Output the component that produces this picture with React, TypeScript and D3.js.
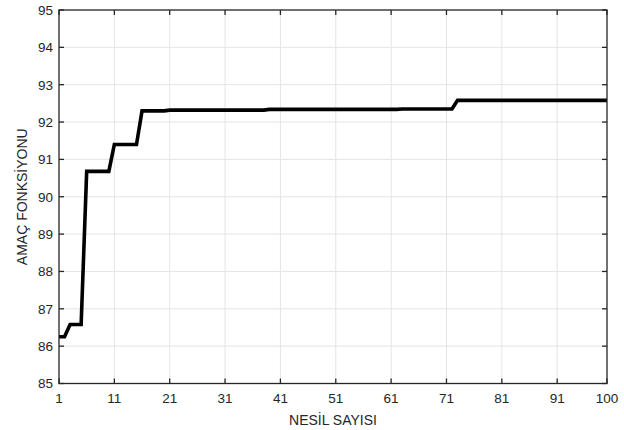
import { useEffect, useRef } from 'react'
import * as d3 from 'd3'

// objective value per generation
const generations = d3.range(1, 101)
const fitness = [
  86.25, 86.25, 86.58, 86.58, 86.58, 90.68, 90.68, 90.68, 90.68, 90.68,
  91.4, 91.4, 91.4, 91.4, 91.4, 92.3, 92.3, 92.3, 92.3, 92.3,
  92.32, 92.32, 92.32, 92.32, 92.32, 92.32, 92.32, 92.32, 92.32, 92.32,
  92.32, 92.32, 92.32, 92.32, 92.32, 92.32, 92.32, 92.32, 92.34, 92.34,
  92.34, 92.34, 92.34, 92.34, 92.34, 92.34, 92.34, 92.34, 92.34, 92.34,
  92.34, 92.34, 92.34, 92.34, 92.34, 92.34, 92.34, 92.34, 92.34, 92.34,
  92.34, 92.34, 92.35, 92.35, 92.35, 92.35, 92.35, 92.35, 92.35, 92.35,
  92.35, 92.35, 92.58, 92.58, 92.58, 92.58, 92.58, 92.58, 92.58, 92.58,
  92.58, 92.58, 92.58, 92.58, 92.58, 92.58, 92.58, 92.58, 92.58, 92.58,
  92.58, 92.58, 92.58, 92.58, 92.58, 92.58, 92.58, 92.58, 92.58, 92.58,
]
const xTicks = [1, 11, 21, 31, 41, 51, 61, 71, 81, 91, 100]
const yTicks = [85, 86, 87, 88, 89, 90, 91, 92, 93, 94, 95]

const W = 624
const H = 430

export default function App() {
  const svgRef = useRef<SVGSVGElement>(null)

  useEffect(() => {
    if (!svgRef.current) return
    const svg = d3.select(svgRef.current)
    svg.selectAll('*').remove()

    const margin = { top: 10, right: 17, bottom: 46.5, left: 59 }
    const innerW = W - margin.left - margin.right
    const innerH = H - margin.top - margin.bottom
    const font = 'Liberation Sans, Arial, sans-serif'
    const axisColor = '#262626'

    const x = d3.scaleLinear().domain([1, 100]).range([0, innerW])
    const y = d3.scaleLinear().domain([85, 95]).range([innerH, 0])

    const g = svg.append('g').attr('transform', `translate(${margin.left},${margin.top})`)

    // grid
    g.selectAll('.gx').data(xTicks.slice(1, -1)).enter().append('line')
      .attr('x1', d => x(d)).attr('x2', d => x(d))
      .attr('y1', 0).attr('y2', innerH)
      .attr('stroke', '#e4e4e4').attr('stroke-width', 1)
    g.selectAll('.gy').data(yTicks.slice(1, -1)).enter().append('line')
      .attr('y1', d => y(d)).attr('y2', d => y(d))
      .attr('x1', 0).attr('x2', innerW)
      .attr('stroke', '#e4e4e4').attr('stroke-width', 1)

    // data line
    const line = d3.line<number>()
      .x((_, i) => x(generations[i]))
      .y(d => y(d))
    g.append('path')
      .datum(fitness)
      .attr('fill', 'none')
      .attr('stroke', '#000')
      .attr('stroke-width', 3.6)
      .attr('stroke-linejoin', 'miter')
      .attr('d', line)

    // box
    g.append('rect')
      .attr('x', 0).attr('y', 0).attr('width', innerW).attr('height', innerH)
      .attr('fill', 'none').attr('stroke', axisColor).attr('stroke-width', 1.3)

    // ticks (inward, all four sides)
    const tl = 5
    xTicks.forEach(t => {
      g.append('line').attr('x1', x(t)).attr('x2', x(t)).attr('y1', innerH).attr('y2', innerH - tl)
        .attr('stroke', axisColor).attr('stroke-width', 1.3)
      g.append('line').attr('x1', x(t)).attr('x2', x(t)).attr('y1', 0).attr('y2', tl)
        .attr('stroke', axisColor).attr('stroke-width', 1.3)
      g.append('text').attr('x', x(t)).attr('y', innerH + 19)
        .attr('text-anchor', 'middle').attr('font-family', font).attr('font-size', 13.5)
        .attr('fill', axisColor).text(t)
    })
    yTicks.forEach(t => {
      g.append('line').attr('x1', 0).attr('x2', tl).attr('y1', y(t)).attr('y2', y(t))
        .attr('stroke', axisColor).attr('stroke-width', 1.3)
      g.append('line').attr('x1', innerW).attr('x2', innerW - tl).attr('y1', y(t)).attr('y2', y(t))
        .attr('stroke', axisColor).attr('stroke-width', 1.3)
      g.append('text').attr('x', -6).attr('y', y(t)).attr('dy', '0.36em')
        .attr('text-anchor', 'end').attr('font-family', font).attr('font-size', 13.5)
        .attr('fill', axisColor).text(t)
    })

    // axis labels
    g.append('text')
      .attr('x', innerW / 2).attr('y', innerH + 41)
      .attr('text-anchor', 'middle').attr('font-family', font).attr('font-size', 14)
      .attr('fill', axisColor).text('NESİL SAYISI')
    g.append('text')
      .attr('transform', `translate(-32,${innerH / 2}) rotate(-90)`)
      .attr('text-anchor', 'middle').attr('font-family', font).attr('font-size', 14)
      .attr('fill', axisColor).text('AMAÇ FONKSİYONU')
  }, [])

  return (
    <div style={{ position: 'absolute', left: 0, top: 0 }}>
      <svg ref={svgRef} width={W} height={H} style={{ display: 'block', background: '#fff' }} />
    </div>
  )
}
